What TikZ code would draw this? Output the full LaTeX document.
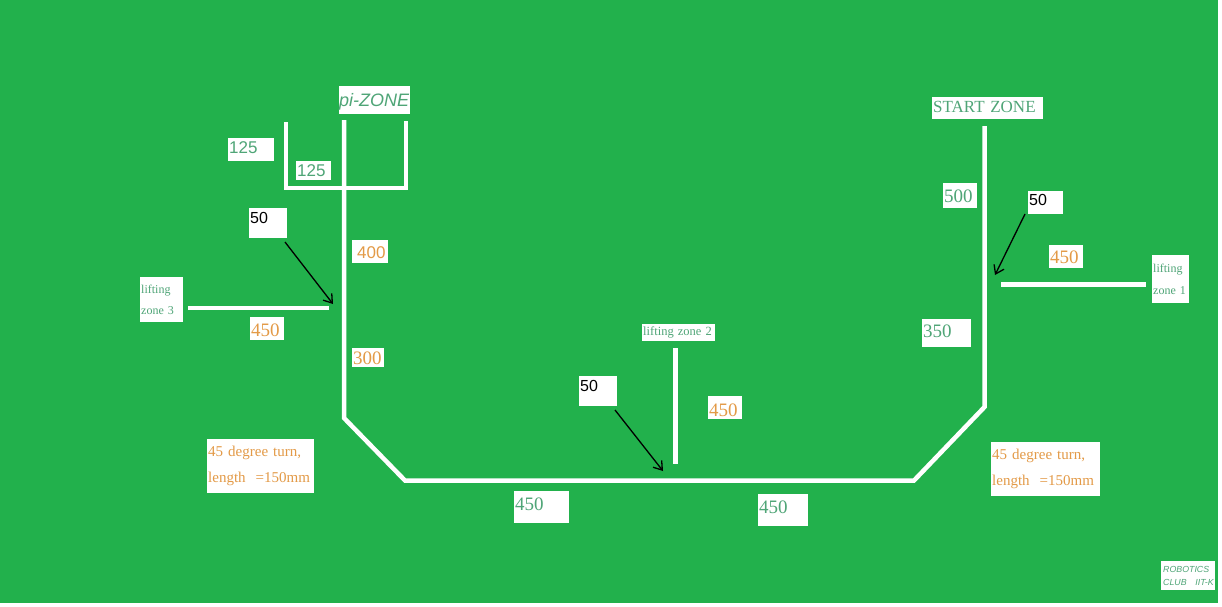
\documentclass[tikz,border=0pt]{standalone}
\usepackage{fontspec}
\setmainfont{Liberation Serif}
\setsansfont{Liberation Sans}
\usetikzlibrary{arrows.meta}
\definecolor{fieldgreen}{HTML}{22B14C}
\definecolor{labelorange}{HTML}{E39A47}
\definecolor{labelgreen}{HTML}{4FA577}
\tikzset{
  track/.style={draw=white, line width=4.5pt, line join=miter},
  bx/.style 2 args={text height=#1, text depth=#2},
  lbl/.style={fill=white, inner xsep=1pt, inner ysep=0pt, anchor=north west, align=left, font=\fontsize{19}{19}\selectfont},
  num/.style={lbl, text=labelgreen},
  onum/.style={lbl, text=labelorange},
  small/.style={lbl, text=labelgreen, font=\fontsize{12}{21.5}\selectfont},
  turn/.style={lbl, text=labelorange, font=\fontsize{15}{26}\selectfont},
  fifty/.style={lbl, text=black, font=\sffamily\fontsize{16}{16}\selectfont},
  pointer/.style={draw=black, line width=1.3pt, -{Straight Barb[length=8pt,width=11pt]}}
}
\begin{document}
\begin{tikzpicture}[x=1pt, y=-1pt]

\fill[white] (0,0) rectangle (1222,606);
\fill[fieldgreen] (0,0) rectangle (1218,603);
\useasboundingbox (0,0) rectangle (1222,606);

% main track
\coordinate (a) at (344,120);
\coordinate (b) at (344,418);
\coordinate (c) at (405,480.5);
\coordinate (d) at (914,480.5);
\coordinate (e) at (984.5,407);
\coordinate (f) at (984.5,126);
\draw[track] (a) -- (b) -- (c) -- (d) -- (e) -- (f);

% pi zone fork
\coordinate (g) at (286,122);
\coordinate (h) at (286,188);
\coordinate (i) at (406,188);
\coordinate (j) at (406,121);
\draw[track] (g) -- (h) -- (i) -- (j);

% lifting zone lines
\coordinate (k) at (188,308);
\coordinate (l) at (329,308);
\coordinate (m) at (675.5,348);
\coordinate (n) at (675.5,464);
\coordinate (o) at (1001,284.5);
\coordinate (p) at (1146,284.5);
\draw[track] (k) -- (l);
\draw[track] (m) -- (n);
\draw[track] (o) -- (p);

% labels, left side
\node[num, text width=71pt, bx={20pt}{8pt}, font=\itshape\sffamily\fontsize{18}{18}\selectfont, inner xsep=0pt] (pizone) at (339,86) {\mbox{pi-ZONE}};
\node[num, text width=44pt, bx={15pt}{8pt}, font=\sffamily\fontsize{17}{17}\selectfont] (s1) at (228,138) {125};
\node[num, text width=33pt, bx={15pt}{4pt}, font=\sffamily\fontsize{17}{17}\selectfont] (s2) at (296,161) {125};
\node[fifty, text width=36pt, bx={15pt}{15pt}] (f1) at (249,208) {50};
\node[onum, text width=32pt, bx={18pt}{5pt}, font=\sffamily\fontsize{17}{17}\selectfont, inner xsep=2pt] (s3) at (352,240) {\hspace{3pt}400};
\node[onum, text width=32pt, bx={19pt}{4pt}] (s4) at (250,317) {450};
\node[onum, text width=30pt, bx={16pt}{3pt}] (s5) at (352,348) {300};
\node[small, text width=41pt, minimum height=45pt] (lz3) at (140,277) {lifting\\zone 3};
\node[turn, text width=105pt, minimum height=54pt] (t1) at (207,439) {45 degree turn,\\length ~=150mm};

% labels, middle
\node[small, text width=71pt, minimum height=17pt, font=\fontsize{12.5}{13}\selectfont] (lz2) at (642,324) {lifting zone 2};
\node[fifty, text width=36pt, bx={15pt}{15pt}] (f2) at (579,376) {50};
\node[onum, text width=32pt, bx={20pt}{3pt}] (s6) at (708,396) {450};
\node[num, text width=53pt, bx={19pt}{13pt}] (s7) at (514,491) {450};
\node[num, text width=48pt, bx={19pt}{13pt}] (s8) at (758,494) {450};

% labels, right side
\node[num, text width=109pt, bx={15pt}{7pt}, font=\fontsize{17}{17}\selectfont] (start) at (932,97) {START ZONE};
\node[num, text width=32pt, bx={19pt}{6pt}] (s9) at (943,183) {500};
\node[fifty, text width=33pt, bx={14pt}{9pt}] (f3) at (1028,191) {50};
\node[onum, text width=32pt, bx={18pt}{5pt}] (s10) at (1049,245) {450};
\node[num, text width=47pt, bx={18pt}{10pt}] (s11) at (922,319) {350};
\node[small, text width=35pt, minimum height=48pt] (lz1) at (1152,255) {lifting\\zone 1};
\node[turn, text width=107pt, minimum height=54pt] (t2) at (991,442) {45 degree turn,\\length ~=150mm};
\node[lbl, text=labelgreen, text width=50pt, minimum height=29pt, inner xsep=2pt, font=\itshape\sffamily\fontsize{8.8}{13}\selectfont] (club) at (1161,561) {ROBOTICS\\\mbox{CLUB ~~IIT-K}};

% pointers
\coordinate (q) at (333,304);
\coordinate (r) at (663,471);
\coordinate (t) at (995,275);
\coordinate (u) at (285,242);
\coordinate (v) at (615,410);
\coordinate (w) at (1025,214);
\draw[pointer] (u) -- (q);
\draw[pointer] (v) -- (r);
\draw[pointer] (w) -- (t);

\end{tikzpicture}
\end{document}
